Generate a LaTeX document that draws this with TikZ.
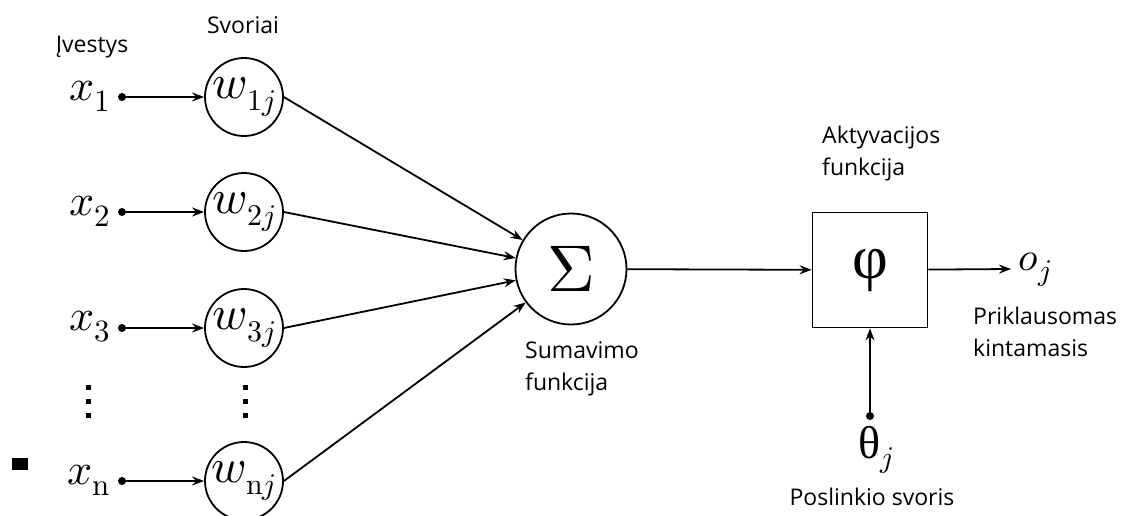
\documentclass[tikz,border=0pt]{standalone}
\usepackage{fontspec}
\usepackage{unicode-math}
\setmainfont{Open Sans}
\setmathfont{Latin Modern Math}
\newfontfamily\greekserif{Liberation Serif}
\usetikzlibrary{arrows.meta}
% large subscripts for the big symbols
\DeclareMathSizes{44}{44}{31}{22}
\DeclareMathSizes{48}{48}{30}{22}
\DeclareMathSizes{40}{40}{30}{22}

\begin{document}
\begin{tikzpicture}[x=1pt,y=-1pt,
  wire/.style={line width=1.8pt, -{Stealth[length=12pt,width=9pt,inset=4pt]}},
  weight/.style={circle, draw, line width=1.8pt, minimum size=78pt, inner sep=0pt,
    font=\fontsize{48}{52}\selectfont},
  inval/.style={font=\fontsize{44}{48}\selectfont, inner sep=0pt},
  dotpt/.style={circle, fill, inner sep=0pt, minimum size=8pt},
  lbl/.style={font=\fontsize{23}{32}\selectfont, align=left, inner sep=0pt},
  vdot/.style={fill, minimum size=5pt, inner sep=0pt}]

\useasboundingbox (0,0) rectangle (1128,515);
\clip (0,0) rectangle (1128,515);

% headings
\node[lbl] (inlbl) at (92,47) {Įvestys};
\node[lbl] (wlbl) at (243,25) {Svoriai};

% inputs, weights and their wires
\foreach \i/\y/\s in {1/97/1, 2/212/2, 3/328/3, n/481/\symup{n}} {
  \node[inval, anchor=east] (x\i) at (111,\y-1) {$x_{\s}$};
  \node[dotpt] (d\i) at (122,\y) {};
  \node[weight] (w\i) at (244,\y) {$w_{\s j}$};
  \draw[wire] (d\i) -- (w\i);
}

% ellipsis dots
\foreach \y [count=\k] in {387,401,415} {
  \node[vdot] (ex\k) at (88,\y) {};
  \node[vdot] (ew\k) at (245,\y) {};
}

% stray mark
\fill (12,458) rectangle (28,470);

% summation
\node[weight, minimum size=111pt, font=\fontsize{66}{70}\selectfont] (sum) at (571,269) {$\Sigma$};
\foreach \i in {1,2,3,n} \draw[wire] (w\i.east) -- (sum);
\node[lbl, anchor=north west] (sumlbl) at (525,341) {Sumavimo\\funkcija};

% activation
\node[draw, line width=1.8pt, minimum size=115pt, inner sep=0pt,
  font=\greekserif\fontsize{62}{66}\selectfont] (act) at (870,270) {φ};
\draw[wire] (sum) -- (act);
\node[lbl, anchor=north west] (actlbl) at (822,126) {Aktyvacijos\\funkcija};

% output
\coordinate (out) at (1011,269);
\draw[wire] (act) -- (out);
\node[font=\fontsize{40}{44}\selectfont, inner sep=0pt] (oj) at (1035,270) {$o_j$};
\node[lbl, anchor=north west] (outlbl) at (973,307) {Priklausomas\\kintamasis};

% bias
\node[dotpt] (bias) at (870,416) {};
\draw[wire] (bias) -- (act);
\node[inner sep=0pt] (theta) at (876,450) {{\greekserif\fontsize{46}{50}\selectfont θ}{\fontsize{40}{44}\selectfont$_j$}};
\node[lbl] (biaslbl) at (872,497) {Poslinkio svoris};
\end{tikzpicture}
\end{document}
